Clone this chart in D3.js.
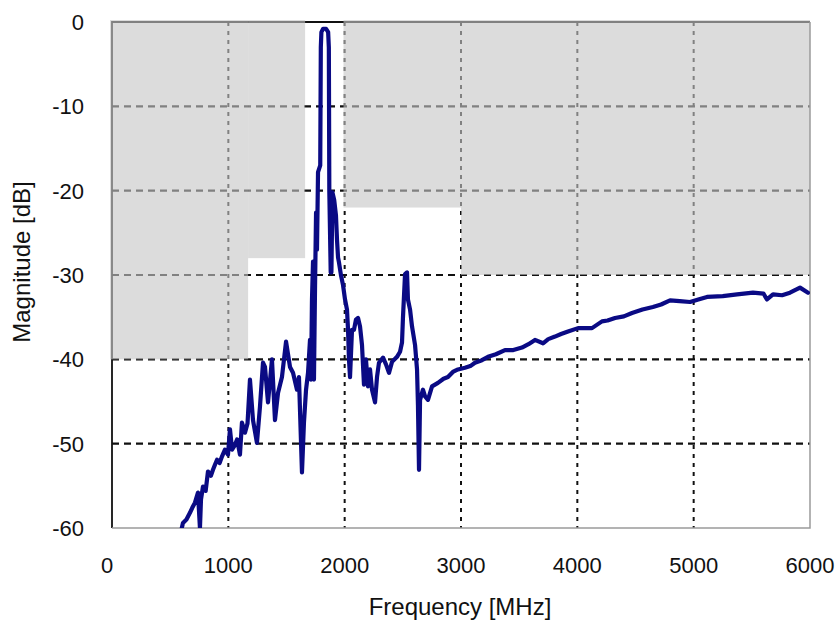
<!DOCTYPE html>
<html>
<head>
<meta charset="utf-8">
<script src="https://cdn.jsdelivr.net/npm/d3@7"></script>
<style>
  body { margin: 0; background: #fff; }
  text { font-family: "Liberation Sans", Arial, sans-serif; fill: #111; }
</style>
</head>
<body>
<svg id="chart"></svg>
<script>
// spectrum trace
const freqMHz = [600, 610, 640, 670, 690, 713, 739, 756, 765, 782, 805, 825, 850, 868, 885, 903, 925, 946, 971, 997, 1014, 1032,
  1055, 1075, 1100, 1117, 1143, 1165, 1186, 1212, 1246, 1272, 1298, 1315, 1341, 1375, 1401, 1427, 1461, 1496,
  1530, 1556, 1590, 1607, 1633, 1650, 1668, 1685, 1702, 1711, 1719, 1728, 1736, 1745, 1754, 1762,
  1771, 1790, 1795, 1800, 1815, 1840, 1858, 1864, 1868, 1880, 1886, 1895, 1910, 1925, 1934, 1943, 1951, 1968,
  1986, 2003, 2020, 2029, 2037, 2046, 2063, 2080, 2097, 2115, 2132, 2149, 2166, 2183, 2201, 2218,
  2235, 2261, 2278, 2295, 2330, 2355, 2381, 2407, 2450, 2476, 2493, 2501, 2519, 2536, 2544, 2562,
  2579, 2605, 2622, 2630, 2639, 2648, 2673, 2691, 2716, 2751, 2802, 2850, 2888, 2930, 2974, 3034, 3080, 3120, 3180, 3232,
  3300, 3378, 3450, 3524, 3580, 3636, 3705, 3750, 3808, 3860, 3920, 4006, 4060, 4126, 4212, 4260, 4324, 4400, 4470, 4560, 4650, 4720, 4797, 4880, 4969, 5040, 5115, 5250, 5373,
  5510, 5600, 5630, 5682, 5760, 5828, 5914, 5983];
const magDB = [-60.0, -59.4, -59.0, -58.2, -57.6, -57.0, -55.8, -60.0, -56.6, -55.1, -55.6, -53.3, -53.8, -53.1, -52.5, -51.9, -52.3, -51.5, -50.7, -51.3, -48.3, -50.7,
  -50.2, -49.5, -51.3, -47.5, -48.7, -47.6, -42.4, -47.2, -49.9, -45.6, -40.4, -40.9, -45.1, -40.0, -47.2, -44.0, -42.1, -37.9,
  -40.9, -41.6, -43.6, -42.1, -53.4, -47.5, -43.6, -41.6, -37.7, -42.4, -32.9, -28.4, -42.4, -31.7, -22.6, -27.0,
  -17.8, -17.0, -3.0, -1.2, -0.8, -0.8, -1.2, -3.0, -20.0, -29.7, -29.7, -20.2, -21.1, -22.9, -25.8, -27.9, -28.5, -30.0,
  -31.2, -32.9, -34.1, -36.5, -40.0, -42.1, -36.5, -36.5, -35.3, -35.1, -36.1, -38.3, -43.0, -40.0, -43.2, -41.2,
  -43.6, -45.1, -42.1, -40.4, -39.8, -40.6, -41.6, -40.3, -39.7, -39.1, -38.0, -35.1, -29.9, -29.7, -32.9, -34.1,
  -36.1, -38.3, -41.2, -45.4, -53.1, -44.8, -43.6, -44.4, -44.8, -43.2, -42.8, -42.3, -42.1, -41.5, -41.2, -41.0, -40.8, -40.4, -40.1, -39.7,
  -39.4, -38.9, -38.9, -38.6, -38.2, -37.7, -38.1, -37.6, -37.3, -37.0, -36.7, -36.3, -36.3, -36.3, -35.5, -35.4, -35.1, -34.9, -34.5, -34.1, -33.8, -33.5, -33.0, -33.1, -33.2, -32.9, -32.6, -32.5, -32.3,
  -32.1, -32.2, -32.9, -32.3, -32.4, -32.1, -31.5, -32.1];

// out-of-band mask (grey = forbidden zone above the limit)
const maskFrom = [0, 1170, 1990, 3000];
const maskTo = [1170, 1660, 3000, 6000];
const maskLimit = [-40, -28, -22, -30];

const xTicks = [0, 1000, 2000, 3000, 4000, 5000, 6000];
const yTicks = [0, -10, -20, -30, -40, -50, -60];

const width = 840, height = 628;
const m = { left: 112, right: 30, top: 22, bottom: 100 };

const svg = d3.select("#chart").attr("width", width).attr("height", height);

const x = d3.scaleLinear().domain([0, 6000]).range([m.left, width - m.right]);
const y = d3.scaleLinear().domain([-60, 0]).range([height - m.bottom, m.top]);

svg.append("defs").append("clipPath").attr("id", "plot")
  .append("rect")
  .attr("x", x(0)).attr("y", y(0))
  .attr("width", x(6000) - x(0)).attr("height", y(-60) - y(0));

// left/top frame drawn dark, the mask will dim it
svg.append("path")
  .attr("d", `M${x(0)},${y(-60)}V${y(0)}H${x(6000)}`)
  .attr("fill", "none").attr("stroke", "#111").attr("stroke-width", 1.8);

// grid
const grid = svg.append("g");
grid.selectAll(".hg").data(yTicks.filter(d => d > -60 && d < 0)).enter()
  .append("line")
  .attr("x1", x(0)).attr("x2", x(6000))
  .attr("y1", d => y(d)).attr("y2", d => y(d))
  .attr("stroke", "#111").attr("stroke-width", 2.2)
  .attr("stroke-dasharray", "7,5");
grid.selectAll(".vg").data(xTicks.filter(d => d > 0 && d < 6000)).enter()
  .append("line")
  .attr("y1", y(0)).attr("y2", y(-60))
  .attr("x1", d => x(d)).attr("x2", d => x(d))
  .attr("stroke", "#111").attr("stroke-width", 2)
  .attr("stroke-dasharray", "4,5");

// mask on top of grid, semi transparent so the grid shows through
svg.append("g").selectAll("rect").data(maskFrom).enter()
  .append("rect")
  .attr("x", (d, i) => x(d) - (i === 0 ? 2 : 0))
  .attr("y", y(0) - 2)
  .attr("width", (d, i) => x(maskTo[i]) - x(d) + (i === 0 ? 2 : 0))
  .attr("height", (d, i) => y(maskLimit[i]) - y(0) + 2)
  .attr("fill", "#c6c6c6").attr("fill-opacity", 0.62);

// right/bottom frame
svg.append("path")
  .attr("d", `M${x(0)},${y(-60)}H${x(6000)}V${y(0)}`)
  .attr("fill", "none").attr("stroke", "#9a9a9a").attr("stroke-width", 1.5);

// trace
const line = d3.line().x((d, i) => x(freqMHz[i])).y(d => y(d));
svg.append("path")
  .datum(magDB)
  .attr("clip-path", "url(#plot)")
  .attr("d", line)
  .attr("fill", "none")
  .attr("stroke", "#0a0a84")
  .attr("stroke-width", 4.2)
  .attr("stroke-linejoin", "round")
  .attr("stroke-linecap", "round");

// axes labels
svg.append("g").selectAll("text").data(yTicks).enter()
  .append("text")
  .attr("x", 84).attr("y", d => y(d))
  .attr("dy", "0.36em")
  .attr("text-anchor", "end")
  .attr("font-size", 22)
  .text(d => d);

svg.append("g").selectAll("text").data(xTicks).enter()
  .append("text")
  .attr("x", d => x(d) - (d === 0 ? 5 : 0)).attr("y", 573)
  .attr("text-anchor", "middle")
  .attr("font-size", 22)
  .text(d => d);

svg.append("text")
  .attr("x", 460).attr("y", 615)
  .attr("text-anchor", "middle")
  .attr("font-size", 24)
  .text("Frequency [MHz]");

svg.append("text")
  .attr("transform", "translate(30,262) rotate(-90)")
  .attr("text-anchor", "middle")
  .attr("font-size", 24)
  .text("Magnitude [dB]");
</script>
</body>
</html>
